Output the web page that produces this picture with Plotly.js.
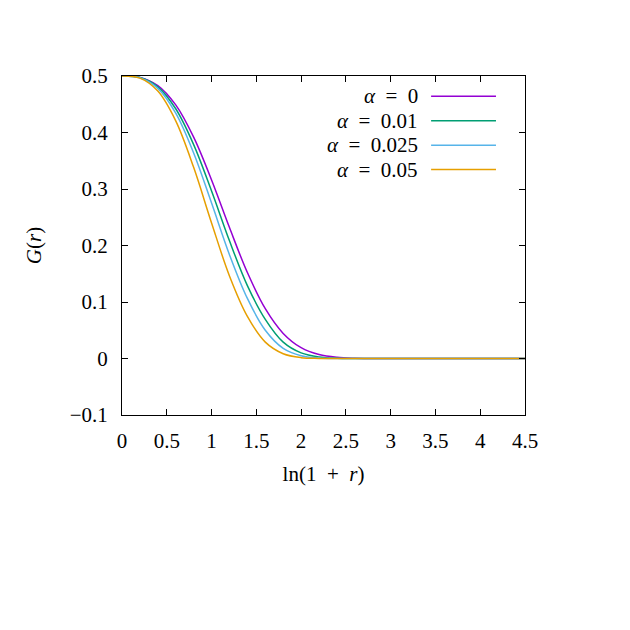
<!DOCTYPE html>
<html>
<head>
<meta charset="utf-8">
<script src="https://cdn.plot.ly/plotly-3.0.1.min.js"></script>
<style>
  html, body { margin: 0; padding: 0; background: #fff; }
  #chart { width: 630px; height: 630px; }
</style>
</head>
<body>
<div id="chart"></div>
<script>
// x = ln(1 + r)
const xs = [0, 0.2, 0.4, 0.6, 0.8, 1.0, 1.2, 1.4, 1.6, 1.8, 2.0, 2.2, 2.4, 2.6, 2.8, 3.0, 3.5, 4.0, 4.5];

const gAlpha0    = [0.5, 0.4976, 0.4831, 0.4488, 0.3917, 0.3159, 0.2317, 0.1521, 0.0881, 0.0444, 0.0191, 0.0070, 0.0021, 0.0005, 0.0001, 0, 0, 0, 0];
const gAlpha001  = [0.5, 0.4973, 0.4808, 0.4420, 0.3786, 0.2964, 0.2083, 0.1290, 0.0693, 0.0290, 0.0100, 0.0028, 0.0006, 0.0001, 0, 0, 0, 0, 0];
const gAlpha0025 = [0.5, 0.4969, 0.4781, 0.4343, 0.3638, 0.2751, 0.1838, 0.1063, 0.0500, 0.0180, 0.0050, 0.0010, 0.0001, 0, 0, 0, 0, 0, 0];
const gAlpha005  = [0.5, 0.4962, 0.4733, 0.4206, 0.3383, 0.2399, 0.1461, 0.0745, 0.0290, 0.0085, 0.0015, 0.0002, 0, 0, 0, 0, 0, 0, 0];

const seriesNames = ['<i>α</i>\u2002=\u20020', '<i>α</i>\u2002=\u20020.01', '<i>α</i>\u2002=\u20020.025', '<i>α</i>\u2002=\u20020.05'];
const seriesVals = [gAlpha0, gAlpha001, gAlpha0025, gAlpha005];
const colors = ['#9400d3', '#009e73', '#56b4e9', '#e69f00'];

const xTicks = [0, 0.5, 1, 1.5, 2, 2.5, 3, 3.5, 4, 4.5];
const yTicks = [-0.1, 0, 0.1, 0.2, 0.3, 0.4, 0.5];

const fontFamily = '"Liberation Serif", "DejaVu Serif", serif';

const traces = seriesVals.map((vals, i) => ({
  x: xs,
  y: vals,
  type: 'scatter',
  mode: 'lines',
  name: seriesNames[i],
  line: { color: colors[i], width: 1.5, shape: 'spline', smoothing: 1 },
  showlegend: false,
  hoverinfo: 'skip'
}));

// gnuplot-style key: text right-aligned, sample line to the right
const keyTop = 0.94, keyStep = 0.072;
const annotations = seriesNames.map((name, i) => ({
  xref: 'paper', yref: 'paper',
  x: 0.74, y: keyTop - i * keyStep,
  xanchor: 'right', yanchor: 'middle',
  text: name,
  showarrow: false,
  font: { family: fontFamily, size: 21, color: '#000' }
}));
const shapes = colors.map((c, i) => ({
  type: 'line', xref: 'paper', yref: 'paper',
  x0: 0.767, x1: 0.928,
  y0: keyTop - i * keyStep, y1: keyTop - i * keyStep,
  line: { color: c, width: 1.5 }
}));

const layout = {
  width: 630,
  height: 630,
  paper_bgcolor: '#fff',
  plot_bgcolor: '#fff',
  font: { family: fontFamily, size: 21, color: '#000' },
  margin: { l: 122, r: 105, t: 76, b: 215 },
  showlegend: false,
  xaxis: {
    range: [0, 4.5],
    tickvals: xTicks,
    ticktext: xTicks.map(String),
    ticks: 'inside',
    ticklen: 6,
    tickcolor: '#000',
    showline: true,
    linecolor: '#000',
    linewidth: 1,
    mirror: 'ticks',
    showgrid: false,
    zeroline: false,
    ticklabelstandoff: 7,
    title: { text: 'ln(1\u2002+\u2002<i>r</i>)', font: { size: 21 }, standoff: 14 }
  },
  yaxis: {
    range: [-0.1, 0.5],
    tickvals: yTicks,
    ticks: 'inside',
    ticklen: 6,
    tickcolor: '#000',
    showline: true,
    linecolor: '#000',
    linewidth: 1,
    mirror: 'ticks',
    showgrid: false,
    zeroline: false,
    ticklabelstandoff: 9,
    title: { text: '<i>G</i>(<i>r</i>)', font: { size: 21 }, standoff: 22 }
  },
  annotations: annotations,
  shapes: shapes
};

Plotly.newPlot('chart', traces, layout, { displayModeBar: false, staticPlot: true });
</script>
</body>
</html>
